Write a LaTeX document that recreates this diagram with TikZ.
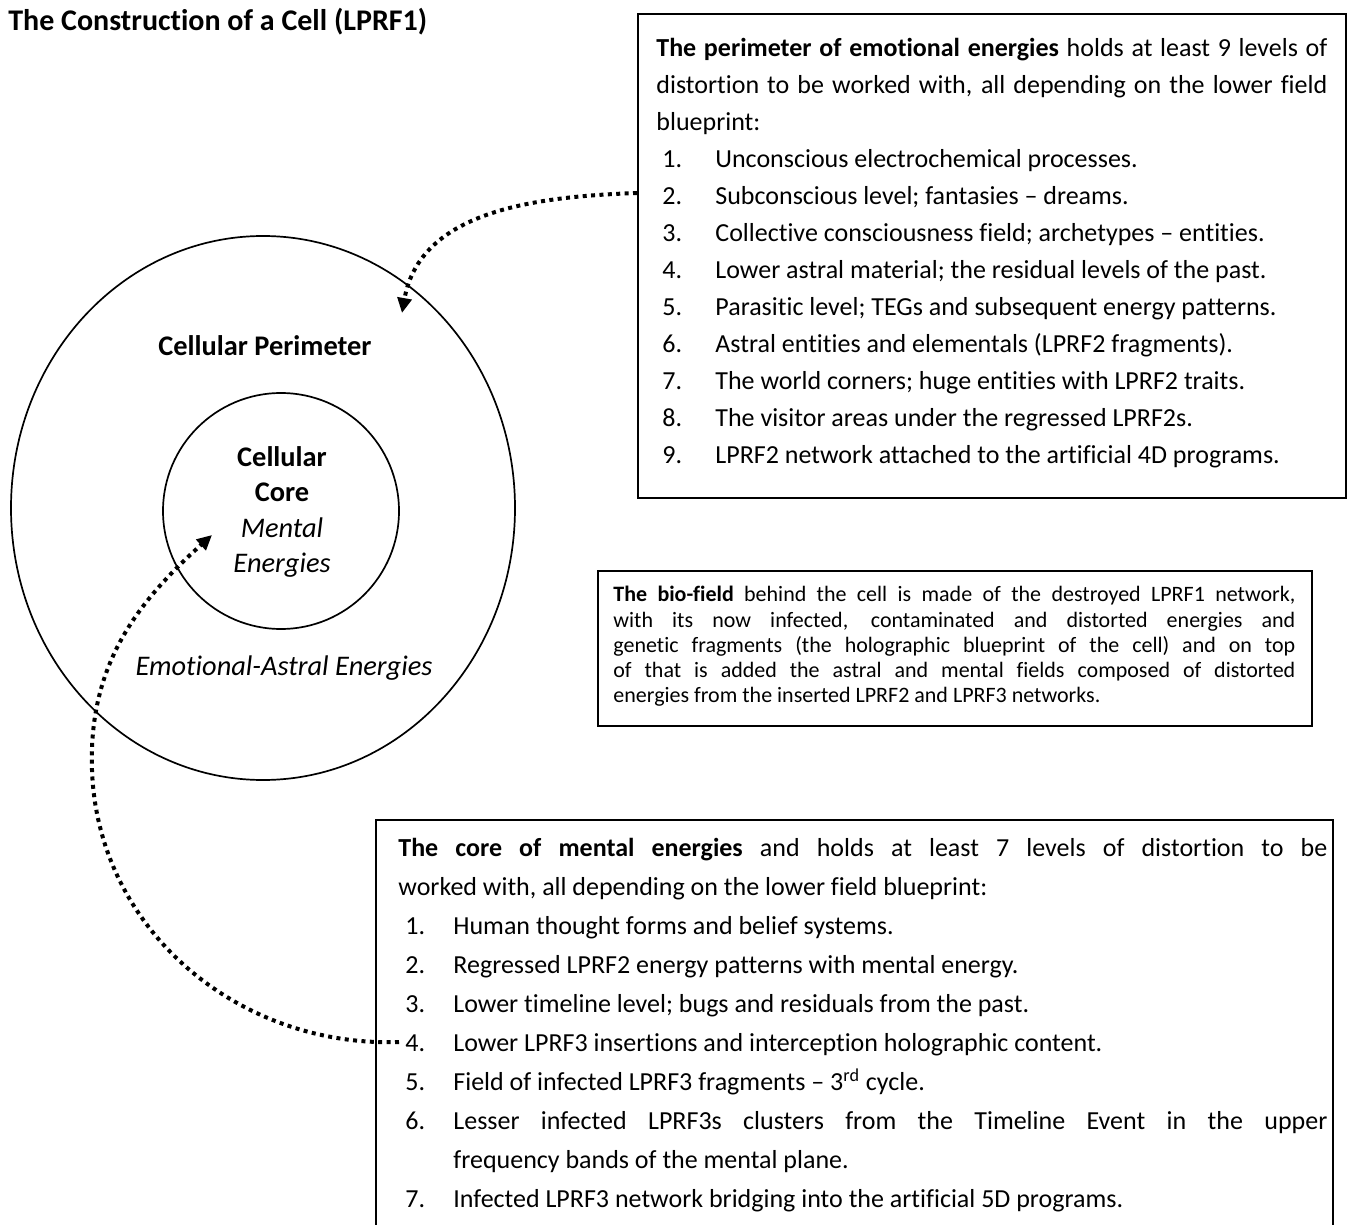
\documentclass[tikz,border=0pt]{standalone}
\usepackage{fontspec}
\setmainfont{Carlito}[Ligatures=NoCommon]
\usepackage{enumitem}
\usetikzlibrary{shapes.geometric,arrows.meta}

\tikzset{
  frame/.style={draw=black,line width=1pt,inner sep=0pt},
  ring/.style={draw=black,line width=0.85pt,ellipse,inner sep=0pt},
  dotarrow/.style={line width=2pt,dash pattern=on 2pt off 2.2pt,-{Triangle[length=7.5pt,width=7pt]}},
  boxtext/.style={anchor=north west,inner sep=0pt,align=justify,font=\fontsize{13pt}{#1}\selectfont},
  boxtext/.default=18.5pt,
  celltext/.style={font={\fontsize{14.2pt}{17.8pt}\selectfont#1}},
  celltext/.default={},
}

\begin{document}
\begin{tikzpicture}[x=0.5pt,y=-0.5pt]
\useasboundingbox (0,0) rectangle (1356,1225);

\node[anchor=west,inner sep=0pt,font=\fontsize{15pt}{18pt}\selectfont\bfseries] (title) at (8,22) {The Construction of a Cell (LPRF1)};

% the cell
\node[ring,minimum width=252pt,minimum height=272pt] (outer) at (263,508) {};
\node[ring,minimum width=118pt,minimum height=118pt] (inner) at (281,511) {};
\node[celltext=\bfseries] (perimlbl) at (265,346) {Cellular Perimeter};
\node[celltext,align=center] (corelbl) at (282,512) {\textbf{Cellular}\\\textbf{Core}\\\textit{Mental}\\\textit{Energies}};
\node[celltext=\itshape] (astrallbl) at (284,668) {Emotional-Astral Energies};

% perimeter box
\node[frame,anchor=north west,minimum width=354pt,minimum height=242pt] (perim) at (637,13) {};
\node[boxtext,text width=335.5pt] (perimtxt) at (656,38) {%
\textbf{The perimeter of emotional energies} holds at least 9 levels of\linebreak
distortion to be worked with, all depending on the lower field\linebreak
blueprint:
\begin{enumerate}[label=\arabic*.,align=left,labelindent=3pt,leftmargin=29.5pt,labelwidth=26.5pt,labelsep=0pt,topsep=0pt,itemsep=0pt,parsep=0pt,partopsep=0pt]
\item Unconscious electrochemical processes.
\item Subconscious level; fantasies -- dreams.
\item Collective consciousness field; archetypes -- entities.
\item Lower astral material; the residual levels of the past.
\item Parasitic level; TEGs and subsequent energy patterns.
\item Astral entities and elementals (LPRF2 fragments).
\item The world corners; huge entities with LPRF2 traits.
\item The visitor areas under the regressed LPRF2s.
\item LPRF2 network attached to the artificial 4D programs.
\end{enumerate}};

% bio-field box
\node[frame,anchor=north west,minimum width=357pt,minimum height=77.5pt] (biofield) at (597,570) {};
\node[boxtext,text width=341pt,font=\fontsize{11pt}{12.6pt}\selectfont] (biotxt) at (613,586) {%
\textbf{The bio-field} behind the cell is made of the destroyed LPRF1 network,\linebreak
with its now infected, contaminated and distorted energies and\linebreak
genetic fragments (the holographic blueprint of the cell) and on top\linebreak
of that is added the astral and mental fields composed of distorted\linebreak
energies from the inserted LPRF2 and LPRF3 networks.};

% core box, open at the bottom
\coordinate (corenw) at (376,820);
\coordinate (corene) at (1333,820);
\draw[line width=1pt] (376,1226) -- (corenw) -- (corene) -- (1333,1226);
\node[boxtext=19.5pt,text width=464.5pt] (coretxt) at (398,838) {%
\textbf{The core of mental energies} and holds at least 7 levels of distortion to be\linebreak
worked with, all depending on the lower field blueprint:
\begin{enumerate}[label=\arabic*.,align=left,labelindent=3.5pt,leftmargin=27.5pt,labelwidth=24pt,labelsep=0pt,topsep=0pt,itemsep=0pt,parsep=0pt,partopsep=0pt]
\item Human thought forms and belief systems.
\item Regressed LPRF2 energy patterns with mental energy.
\item Lower timeline level; bugs and residuals from the past.
\item Lower LPRF3 insertions and interception holographic content.
\item Field of infected LPRF3 fragments -- 3\textsuperscript{rd} cycle.
\item Lesser infected LPRF3s clusters from the Timeline Event in the upper\linebreak
frequency bands of the mental plane.
\item Infected LPRF3 network bridging into the artificial 5D programs.
\end{enumerate}};

% arrows
\coordinate (perimstart) at (0,193);
\coordinate (perimtip) at (402,313);
\draw[dotarrow] (perim.west |- perimstart) to[out=182,in=80] (perimtip);
\coordinate (corestart) at (399,1042);
\coordinate (coreleft) at (92,770);
\coordinate (coretip) at (212,535);
\draw[dotarrow] (corestart) to[out=182,in=-88] (coreleft) to[out=92,in=-138] (coretip);
\end{tikzpicture}
\end{document}
